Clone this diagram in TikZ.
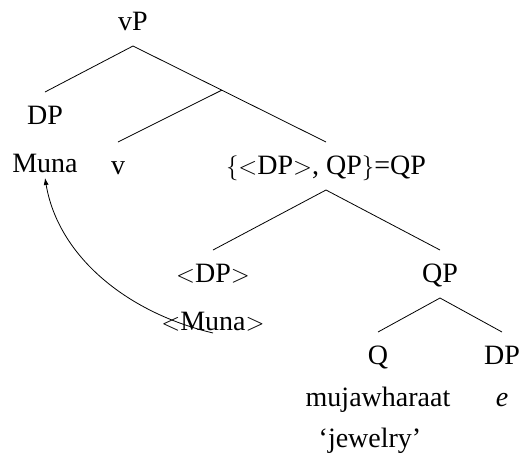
\documentclass[tikz,border=0pt]{standalone}
\usepackage{fontspec}
\setmainfont{Liberation Serif}
\usepackage{tikz}
\usetikzlibrary{arrows.meta, calc}

\begin{document}
\begin{tikzpicture}[
    x=1pt, y=1pt,
    cat/.style={anchor=base, inner sep=0pt, outer xsep=0pt, outer ysep=12pt, text height=20pt, text depth=4pt, font=\fontsize{28}{34}\selectfont},
    word/.style={anchor=base, inner sep=0pt, outer sep=0pt, font=\fontsize{28}{34}\selectfont},
    branch/.style={line width=0.8pt},
    move/.style={-{Latex[length=7pt, width=5pt]}, line width=0.8pt}
]
\useasboundingbox (0,0) rectangle (521,-464);

% Categories
\node[cat] (vP) at (133, -30) {vP};
\node[cat] (dp1) at (45, -124) {DP};
\node[cat] (v) at (118, -174) {v};
\node[cat] (qp1) at (326, -174) {$\{$$<$DP$>$, QP$\}$=QP};
\node[cat] (dp2) at (213, -282) {$<$DP$>$};
\node[cat] (qp2) at (440, -282) {QP};
\node[cat] (q) at (378, -364) {Q};
\node[cat] (dp3) at (502, -364) {DP};

% Words
\node[word] (muna1) at (45, -172) {Muna};
\node[word] (muna2) at (213, -330) {$<$Muna$>$};
\node[word] (mujaw) at (378, -406) {mujawharaat};
\node[word] (e) at (502, -406) {\textit{e}};
\node[word] (gloss) at (370, -447) {`jewelry'};

% Branches
\coordinate (vbar) at ($(vP.south)!0.46!(qp1.north)$);
\draw[branch] (vP.south) -- (dp1.north);
\draw[branch] (vP.south) -- (qp1.north);
\draw[branch] (vbar) -- (v.north);
\draw[branch] (qp1.south) -- (dp2.north);
\draw[branch] (qp1.south) -- (qp2.north);
\draw[branch] (qp2.south) -- (q.north);
\draw[branch] (qp2.south) -- (dp3.north);

% Movement
\draw[move] ([yshift=-3pt]muna2.base) .. controls +(-88,21) and +(13,-77) .. ([yshift=-6pt]muna1.base);

\end{tikzpicture}
\end{document}
